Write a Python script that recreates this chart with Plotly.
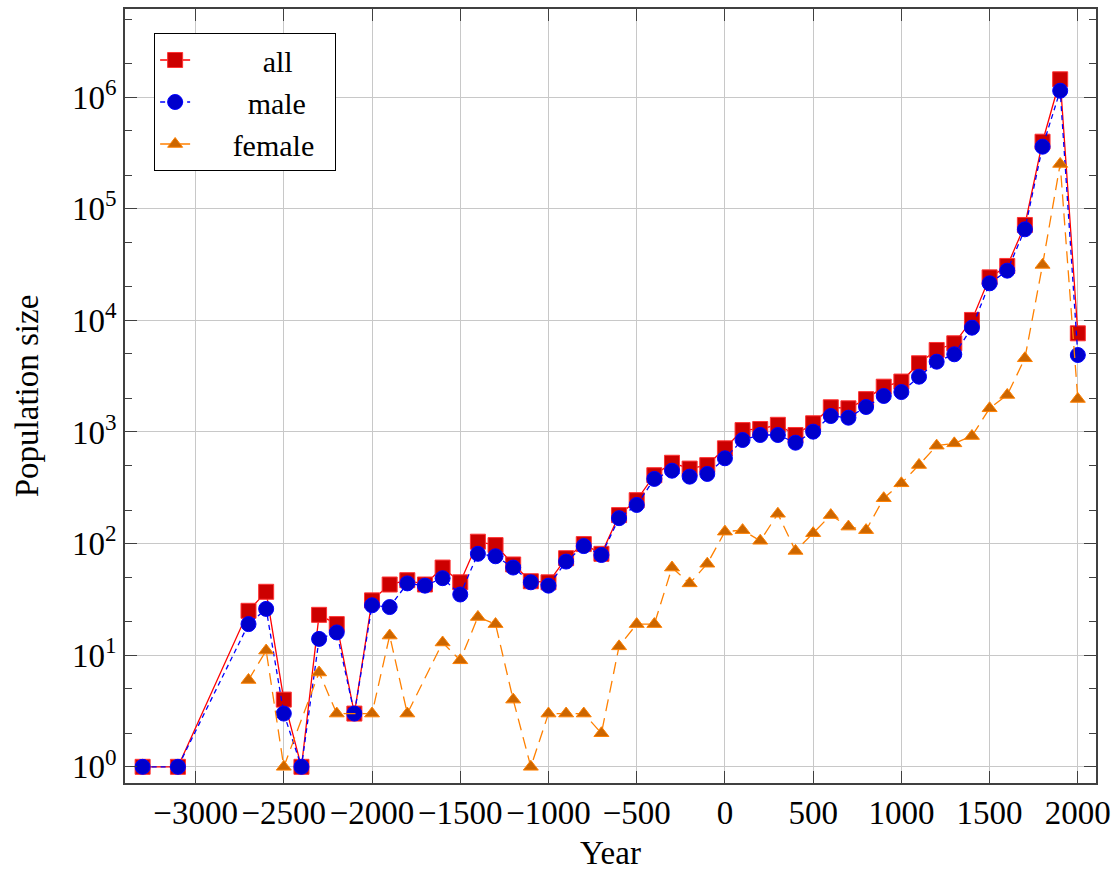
import plotly.graph_objects as go

# Years sampled for the total and male counts
years = [-3300, -3100, -2700, -2600, -2500, -2400, -2300, -2200, -2100, -2000,
         -1900, -1800, -1700, -1600, -1500, -1400, -1300, -1200, -1100, -1000,
         -900, -800, -700, -600, -500, -400, -300, -200, -100, 0,
         100, 200, 300, 400, 500, 600, 700, 800, 900, 1000,
         1100, 1200, 1300, 1400, 1500, 1600, 1700, 1800, 1900, 2000]

all_pop = [1, 1, 25, 37, 4, 1, 23, 19, 3, 31,
           43, 47, 43, 61, 45, 104, 97, 65, 46, 45,
           74, 99, 81, 180, 245, 410, 530, 470, 505, 714,
           1040, 1064, 1160, 940, 1197, 1665, 1630, 1970, 2547, 2830,
           4130, 5430, 6237, 10090, 24300, 30740, 71600, 399000, 1446000, 7660]

male_pop = [1, 1, 19, 26, 3, 1, 14, 16, 3, 28,
            27, 44, 42, 49, 35, 81, 77, 61, 45, 42,
            69, 95, 79, 169, 222, 380, 450, 398, 421, 581,
            848, 940, 940, 802, 1007, 1390, 1343, 1675, 2103, 2280,
            3130, 4266, 4968, 8600, 21480, 27900, 65460, 360000, 1143000, 4896]

# Female counts are zero (not drawn on a log axis) in some years
female_years = [-2700, -2600, -2500, -2300, -2200, -2000,
                -1900, -1800, -1600, -1500, -1400, -1300, -1200, -1100, -1000,
                -900, -800, -700, -600, -500, -400, -300, -200, -100, 0,
                100, 200, 300, 400, 500, 600, 700, 800, 900, 1000,
                1100, 1200, 1300, 1400, 1500, 1600, 1700, 1800, 1900, 2000]
female_pop = [6, 11, 1, 7, 3, 3,
              15, 3, 13, 9, 22, 19, 4, 1, 3,
              3, 3, 2, 12, 19, 19, 61, 44, 66, 128,
              132, 106, 185, 86, 124, 180, 142, 132, 255, 347,
              506, 754, 791, 920, 1630, 2147, 4575, 31400, 252000, 1976]

x_ticks = [-3000, -2500, -2000, -1500, -1000, -500, 0, 500, 1000, 1500, 2000]
x_ticktext = ["\u22123000", "\u22122500", "\u22122000", "\u22121500", "\u22121000",
              "\u2212500", "0", "500", "1000", "1500", "2000"]
y_ticks = [1, 10, 100, 1000, 10000, 100000, 1000000]
y_ticktext = ["10<sup>%d</sup>" % k for k in range(7)]

FONT = "Liberation Serif"
AXIS_COLOR = "#404040"
GRID_COLOR = "#c8c8c8"
NB = "\u00a0"


def centred(label, left, right):
    # pad legend labels with non-breaking spaces so they sit centred
    return NB * left + label + NB * right


fig = go.Figure()

fig.add_trace(go.Scatter(
    x=years, y=all_pop, name=centred("all", 9, 2), mode="lines+markers",
    line=dict(color="#ff0000", width=1.3),
    marker=dict(symbol="square", size=15, color="#cc0000",
                line=dict(color="#ff3333", width=1)),
))
fig.add_trace(go.Scatter(
    x=years, y=male_pop, name=centred("male", 7, 2), mode="lines+markers",
    line=dict(color="#0000ff", width=1.3, dash="5px,4px"),
    marker=dict(symbol="circle", size=15, color="#0000cc",
                line=dict(color="#0000ff", width=1)),
))
fig.add_trace(go.Scatter(
    x=female_years, y=female_pop, name=centred("female", 5, 2), mode="lines+markers",
    line=dict(color="#ff8000", width=1.3, dash="12px,7px"),
    marker=dict(symbol="triangle-up", size=13, color="#cc6600",
                line=dict(color="#ff8000", width=1)),
))

fig.update_layout(
    width=1117, height=871,
    margin=dict(l=125, r=21, t=9, b=88),
    paper_bgcolor="white", plot_bgcolor="white",
    font=dict(family=FONT, size=33, color="black"),
    showlegend=True,
    legend=dict(
        x=0.03, y=0.969, xanchor="left", yanchor="top",
        bgcolor="white", bordercolor="black", borderwidth=1,
        font=dict(family=FONT, size=30), tracegroupgap=0,
    ),
    xaxis=dict(
        range=[-3400, 2103], tickvals=x_ticks, ticktext=x_ticktext,
        automargin=False,
        showgrid=True, gridcolor=GRID_COLOR, gridwidth=1,
        zeroline=False, showline=True, linecolor=AXIS_COLOR, linewidth=1.5,
        mirror="ticks", ticks="inside", ticklen=12, tickcolor=AXIS_COLOR,
        tickfont=dict(family=FONT, size=33),
        title=dict(text="Year", font=dict(family=FONT, size=33), standoff=12),
    ),
    yaxis=dict(
        type="log", range=[-0.145, 6.79], tickvals=y_ticks, ticktext=y_ticktext,
        automargin=False,
        showgrid=True, gridcolor=GRID_COLOR, gridwidth=1,
        zeroline=False, showline=True, linecolor=AXIS_COLOR, linewidth=1.5,
        mirror="ticks", ticks="inside", ticklen=12, tickcolor=AXIS_COLOR,
        minor=dict(ticks="inside", ticklen=7, tickcolor=AXIS_COLOR, showgrid=False),
        tickfont=dict(family=FONT, size=33),
        title=dict(text="Population size", font=dict(family=FONT, size=33), standoff=24),
    ),
)

fig.write_html("out.html")
